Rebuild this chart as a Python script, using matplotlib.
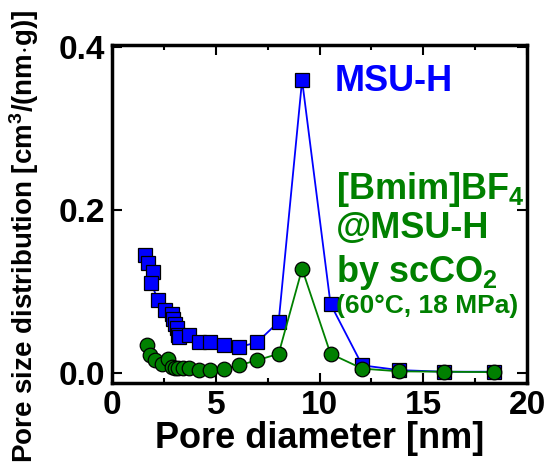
import numpy as np
import matplotlib
matplotlib.use("Agg")
import matplotlib.pyplot as plt
from matplotlib.ticker import MultipleLocator

# data
blue_x = [1.59, 1.75, 1.96, 1.86, 2.23, 2.55, 2.87, 2.96, 3.04, 3.12, 3.20, 3.24,
          3.70, 4.17, 4.73, 5.38, 6.10, 6.99, 8.03, 9.16, 10.53, 12.06, 13.83, 16.0, 18.4]
blue_y = [0.145, 0.135, 0.124, 0.111, 0.090, 0.077, 0.073, 0.067, 0.061, 0.055, 0.047, 0.045,
          0.047, 0.038, 0.038, 0.035, 0.032, 0.038, 0.063, 0.359, 0.085, 0.0098, 0.004, 0.002, 0.002]

green_x = [1.70, 1.84, 2.07, 2.39, 2.71, 2.87, 3.05, 3.20, 3.44, 3.70, 4.17, 4.73,
           5.38, 6.10, 6.99, 8.03, 9.16, 10.53, 12.06, 13.83, 16.0, 18.4]
green_y = [0.035, 0.022, 0.016, 0.012, 0.018, 0.008, 0.007, 0.006, 0.006, 0.0065, 0.0037, 0.0037,
           0.0058, 0.0098, 0.016, 0.024, 0.128, 0.024, 0.0058, 0.0025, 0.002, 0.0015]

plt.rcParams['font.family'] = ['Liberation Sans', 'DejaVu Sans']
plt.rcParams['font.weight'] = 'bold'
plt.rcParams['mathtext.fontset'] = 'custom'
plt.rcParams['mathtext.rm'] = 'Liberation Sans:bold'
plt.rcParams['mathtext.bf'] = 'Liberation Sans:bold'
plt.rcParams['mathtext.default'] = 'rm'

fig = plt.figure(figsize=(5.49, 4.65), dpi=100)
ax = fig.add_axes([0.204, 0.176, 0.756, 0.727])

ax.plot(blue_x, blue_y, color='blue', lw=1.3, marker='s', ms=10.5,
        mfc='blue', mec='black', mew=0.9)
ax.plot(green_x, green_y, color='green', lw=1.3, marker='o', ms=10.5,
        mfc='green', mec='black', mew=0.9)

ax.set_xlim(0, 20)
ax.set_ylim(-0.012, 0.402)
ax.xaxis.set_major_locator(MultipleLocator(5))
ax.xaxis.set_minor_locator(MultipleLocator(2.5))
ax.set_yticks([0.0, 0.2, 0.4])
ax.set_yticklabels(['0.0', '0.2', '0.4'])
ax.tick_params(which='both', direction='in', top=True, right=True, width=1.5)
ax.tick_params(which='major', length=7, labelsize=24, pad=5)
ax.tick_params(which='minor', length=3.5)
for s in ax.spines.values():
    s.set_linewidth(2.5)

ax.set_xlabel('Pore diameter [nm]', fontsize=26, fontweight='bold', labelpad=0)
ax.set_ylabel('Pore size distribution [cm$^3$/(nm$\\cdot$g)]', fontsize=20,
              fontweight='bold')
ax.yaxis.set_label_coords(-0.17, 0.435)

ax.text(10.75, 0.357, 'MSU-H', color='blue', fontsize=26, fontweight='bold', va='center')
ax.text(10.8, 0.225, '[Bmim]BF$_4$', color='green', fontsize=26, fontweight='bold', va='center')
ax.text(10.8, 0.178, '@MSU-H', color='green', fontsize=26, fontweight='bold', va='center')
ax.text(10.8, 0.124, 'by scCO$_2$', color='green', fontsize=26, fontweight='bold', va='center')
ax.text(10.8, 0.083, '(60°C, 18 MPa)', color='green', fontsize=19, fontweight='bold', va='center')

fig.savefig('out.png', dpi=100)
